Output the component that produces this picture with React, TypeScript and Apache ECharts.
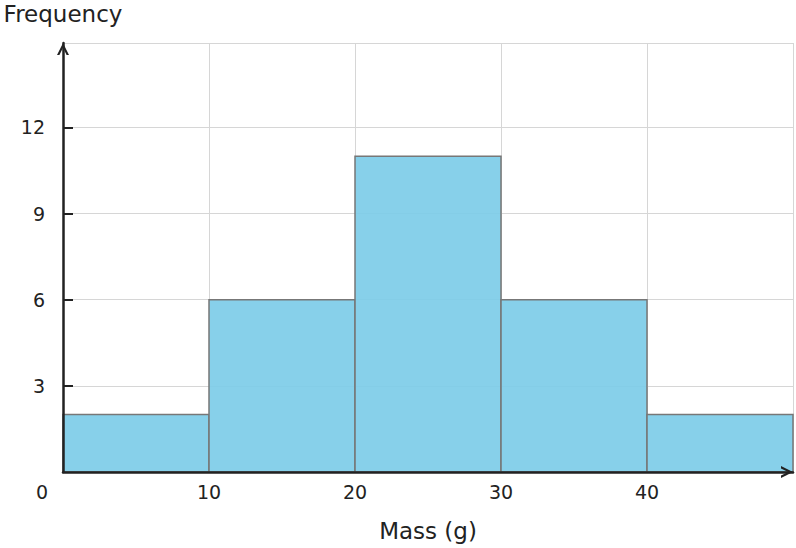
import React, { useEffect, useRef } from "react";
import * as echarts from "echarts";

const binStarts = [0, 10, 20, 30, 40];
const binEnds = [10, 20, 30, 40, 50];
const frequencies = [2, 6, 11, 6, 2];
const xTickLabels = [0, 10, 20, 30, 40];
const yTickLabels = [3, 6, 9, 12];

const FONT = "DejaVu Sans";
const INK = "#222222";
const chevron = "path://M0 12 L6 0 L12 12 L9.6 12 L6 4.8 L2.4 12 Z";

export default function App() {
  const ref = useRef<HTMLDivElement>(null);
  useEffect(() => {
    if (!ref.current) return;
    const chart = echarts.init(ref.current, null, { renderer: "svg" });
    const data = binStarts.map((s, i) => [s, binEnds[i], frequencies[i]]);
    const X_MIN = 0;
    const X_MAX = 50;
    const Y_MIN = 0;
    const Y_MAX = 14.94;
    const arrowLine = {
      show: true,
      onZero: false,
      symbol: ["none", chevron],
      symbolSize: [12, 12],
      symbolOffset: [0, -6],
      lineStyle: { color: INK, width: 2.5 },
    };
    chart.setOption({
      animation: false,
      backgroundColor: "#ffffff",
      textStyle: { fontFamily: FONT },
      grid: { left: 63, right: 3, top: 43, bottom: 76, containLabel: false },
      xAxis: [
        {
          type: "value",
          position: "bottom",
          min: X_MIN,
          max: X_MAX,
          interval: 10,
          z: 0,
          name: "Mass (g)",
          nameLocation: "middle",
          nameGap: 47,
          nameTextStyle: { fontFamily: FONT, fontSize: 23, color: INK },
          axisLine: { show: false },
          axisTick: { show: false },
          axisLabel: {
            customValues: xTickLabels,
            margin: 10,
            fontFamily: FONT,
            fontSize: 19,
            color: INK,
            formatter: (v: number) => (v === 0 ? "{z|0}" : String(v)),
            rich: {
              z: { fontFamily: FONT, fontSize: 19, color: INK, padding: [0, 42, 0, 0] },
            },
          },
          splitLine: { show: true, lineStyle: { color: "#d6d6d6", width: 1 } },
        },
        {
          type: "value",
          position: "bottom",
          min: X_MIN,
          max: X_MAX,
          interval: 10,
          z: 5,
          axisLine: arrowLine,
          axisTick: { show: false },
          axisLabel: { show: false },
          splitLine: { show: false },
        },
      ],
      yAxis: [
        {
          type: "value",
          position: "left",
          min: Y_MIN,
          max: Y_MAX,
          interval: 3,
          z: 0,
          name: "Frequency",
          nameLocation: "end",
          nameGap: 18,
          nameTextStyle: { fontFamily: FONT, fontSize: 23, color: INK, align: "center" },
          axisLine: { show: false },
          axisTick: { show: false },
          axisLabel: {
            customValues: yTickLabels,
            margin: 18,
            fontFamily: FONT,
            fontSize: 19,
            color: INK,
          },
          splitLine: { show: true, lineStyle: { color: "#d6d6d6", width: 1 } },
        },
        {
          type: "value",
          position: "left",
          min: Y_MIN,
          max: Y_MAX,
          interval: 3,
          z: 5,
          axisLine: arrowLine,
          axisTick: {
            show: true,
            inside: true,
            length: 10,
            customValues: yTickLabels,
            lineStyle: { color: INK, width: 2 },
          },
          axisLabel: { show: false },
          splitLine: { show: false },
        },
      ],
      series: [
        {
          type: "custom",
          z: 2,
          xAxisIndex: 0,
          yAxisIndex: 0,
          data,
          encode: { x: [0, 1], y: 2 },
          renderItem: (params: any, api: any) => {
            const p0 = api.coord([api.value(0), api.value(2)]);
            const p1 = api.coord([api.value(1), 0]);
            return {
              type: "rect",
              shape: { x: p0[0], y: p0[1], width: p1[0] - p0[0], height: p1[1] - p0[1] },
              style: { fill: "rgba(125, 204, 232, 0.92)", stroke: "#777777", lineWidth: 1.5 },
            };
          },
        },
      ],
    });
    return () => chart.dispose();
  }, []);
  return (
    <div
      ref={ref}
      style={{ position: "fixed", left: 0, top: 0, width: 796, height: 548 }}
    />
  );
}
